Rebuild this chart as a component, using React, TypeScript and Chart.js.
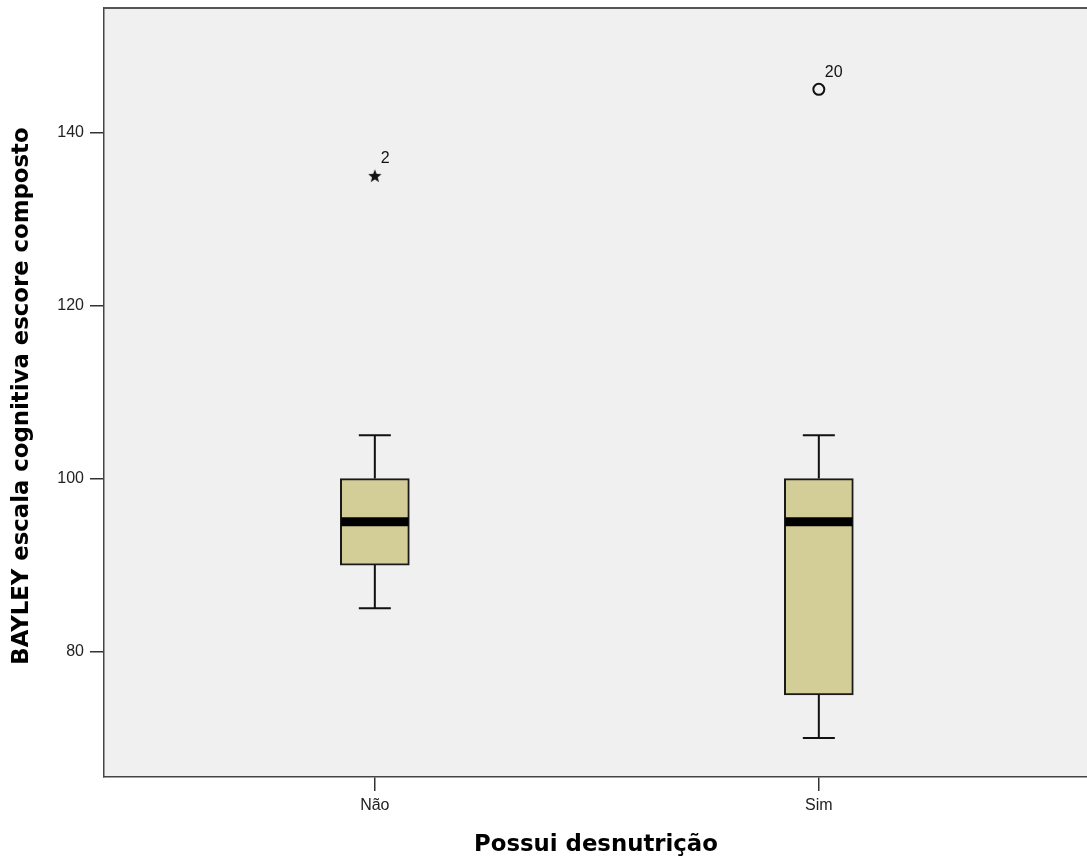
import React, { useEffect, useRef } from "react";
import { Chart, registerables } from "chart.js";

Chart.register(...registerables);

const categories = ["Não", "Sim"];
const q1Values = [90, 75];
const medianValues = [95, 95];
const q3Values = [100, 100];
const whiskerLow = [85, 70];
const whiskerHigh = [105, 105];
const outlierCategory = [1, 2];
const outlierValues = [135, 145];
const outlierLabels = ["2", "20"];
const outlierMarkers = ["star", "circle"];
const yTicks = [80, 100, 120, 140];
const yTitle = "BAYLEY escala cognitiva escore composto";
const xTitle = "Possui desnutrição";

const TICK_FONT = "16px 'Liberation Sans', Arial, sans-serif";
const TITLE_FONT = "bold 22.8px 'DejaVu Sans', sans-serif";

function makeStar(): HTMLCanvasElement {
  const c = document.createElement("canvas");
  c.width = 16;
  c.height = 16;
  const g = c.getContext("2d")!;
  g.fillStyle = "#111";
  g.beginPath();
  const cx = 8, cy = 8.5, R = 7, r = 3;
  for (let k = 0; k < 10; k++) {
    const rad = k % 2 === 0 ? R : r;
    const a = -Math.PI / 2 + (k * Math.PI) / 5;
    const px = cx + rad * Math.cos(a);
    const py = cy + rad * Math.sin(a);
    if (k === 0) g.moveTo(px, py);
    else g.lineTo(px, py);
  }
  g.closePath();
  g.fill();
  return c;
}

const boxPlugin = {
  id: "boxExtras",
  beforeDraw(chart: any) {
    const { ctx, chartArea } = chart;
    ctx.save();
    ctx.fillStyle = "#ffffff";
    ctx.fillRect(0, 0, chart.width, chart.height);
    ctx.fillStyle = "#f0f0f0";
    ctx.fillRect(chartArea.left, chartArea.top, chartArea.right - chartArea.left, chartArea.bottom - chartArea.top);
    ctx.restore();
  },
  afterDatasetsDraw(chart: any) {
    const { ctx, scales } = chart;
    const x = scales.x;
    const y = scales.y;
    const bars = chart.getDatasetMeta(0).data;
    ctx.save();
    categories.forEach((_, i) => {
      const cx = x.getPixelForValue(i + 1);
      const bar = bars[i];
      const half = bar.width / 2;
      const capHalf = 16;
      ctx.strokeStyle = "#111";
      ctx.lineWidth = 2;
      ctx.beginPath();
      ctx.moveTo(cx, y.getPixelForValue(whiskerHigh[i]));
      ctx.lineTo(cx, y.getPixelForValue(q3Values[i]));
      ctx.moveTo(cx, y.getPixelForValue(q1Values[i]));
      ctx.lineTo(cx, y.getPixelForValue(whiskerLow[i]));
      ctx.moveTo(cx - capHalf, y.getPixelForValue(whiskerHigh[i]));
      ctx.lineTo(cx + capHalf, y.getPixelForValue(whiskerHigh[i]));
      ctx.moveTo(cx - capHalf, y.getPixelForValue(whiskerLow[i]));
      ctx.lineTo(cx + capHalf, y.getPixelForValue(whiskerLow[i]));
      ctx.stroke();
      ctx.lineWidth = 9;
      ctx.strokeStyle = "#000";
      ctx.beginPath();
      ctx.moveTo(cx - half + 1, y.getPixelForValue(medianValues[i]));
      ctx.lineTo(cx + half - 1, y.getPixelForValue(medianValues[i]));
      ctx.stroke();
    });
    ctx.fillStyle = "#111";
    ctx.font = TICK_FONT;
    ctx.textAlign = "left";
    ctx.textBaseline = "middle";
    outlierValues.forEach((v, i) => {
      const px = x.getPixelForValue(outlierCategory[i]);
      const py = y.getPixelForValue(v);
      ctx.fillText(outlierLabels[i], px + 6, py - 17);
    });
    ctx.restore();
  },
  afterDraw(chart: any) {
    const { ctx, chartArea } = chart;
    ctx.save();
    ctx.strokeStyle = "#555";
    ctx.lineWidth = 2;
    ctx.beginPath();
    ctx.moveTo(chartArea.left, chartArea.top);
    ctx.lineTo(chartArea.right, chartArea.top);
    ctx.stroke();
    ctx.fillStyle = "#000";
    ctx.font = TITLE_FONT;
    ctx.textAlign = "center";
    ctx.textBaseline = "middle";
    ctx.fillText(xTitle, 596, 845);
    ctx.translate(22, 396);
    ctx.rotate(-Math.PI / 2);
    ctx.fillText(yTitle, 0, 0);
    ctx.restore();
  },
};

export default function App() {
  const ref = useRef<HTMLCanvasElement | null>(null);
  useEffect(() => {
    if (!ref.current) return;
    const star = makeStar();
    const chart = new Chart(ref.current, {
      type: "bar",
      data: {
        datasets: [
          {
            type: "bar",
            data: categories.map((_, i) => ({ x: i + 1, y: [q1Values[i], q3Values[i]] })) as any,
            backgroundColor: "#d3ce98",
            borderColor: "#1a1a1a",
            borderWidth: 2,
            borderSkipped: false,
            barThickness: 69,
          },
          {
            type: "scatter",
            data: outlierValues.map((v, i) => ({ x: outlierCategory[i], y: v })),
            pointStyle: outlierMarkers.map((m) => (m === "star" ? star : "circle")) as any,
            pointRadius: 5.5,
            borderWidth: 2,
            borderColor: "#111",
            backgroundColor: "rgba(0,0,0,0)",
          } as any,
        ],
      },
      options: {
        responsive: false,
        animation: false,
        devicePixelRatio: 1,
        layout: { autoPadding: false, padding: { left: 0, right: 0, top: 8, bottom: 0 } },
        plugins: { legend: { display: false }, tooltip: { enabled: false } },
        scales: {
          x: {
            type: "linear",
            offset: false,
            min: 0.39,
            max: 2.604,
            afterFit: (s: any) => {
              s.height = 87;
              s.paddingLeft = 0;
              s.paddingRight = 0;
            },
            afterBuildTicks: (s: any) => {
              s.ticks = categories.map((_, i) => ({ value: i + 1 }));
            },
            ticks: {
              callback: (v: any) => categories[Number(v) - 1] ?? "",
              font: { family: "'Liberation Sans', Arial, sans-serif", size: 16 },
              color: "#222",
              padding: 5,
              autoSkip: false,
              maxRotation: 0,
            },
            grid: { offset: false, drawOnChartArea: false, drawTicks: true, tickLength: 14, color: "#333", lineWidth: 1.5 },
            border: { color: "#444", width: 1.5 },
          },
          y: {
            type: "linear",
            min: 65.5,
            max: 154.4,
            afterFit: (s: any) => {
              s.width = 104;
              s.paddingTop = 0;
              s.paddingBottom = 0;
            },
            afterBuildTicks: (s: any) => {
              s.ticks = yTicks.map((v) => ({ value: v }));
            },
            ticks: {
              font: { family: "'Liberation Sans', Arial, sans-serif", size: 16 },
              color: "#222",
              padding: 6,
            },
            grid: { drawOnChartArea: false, drawTicks: true, tickLength: 14, color: "#333", lineWidth: 1.5 },
            border: { color: "#444", width: 1.5 },
          },
        },
      },
      plugins: [boxPlugin],
    } as any);
    return () => chart.destroy();
  }, []);
  return (
    <div style={{ position: "fixed", left: 0, top: 0, width: 1087, height: 864, background: "#fff" }}>
      <canvas ref={ref} width={1087} height={864} style={{ display: "block" }} />
    </div>
  );
}
